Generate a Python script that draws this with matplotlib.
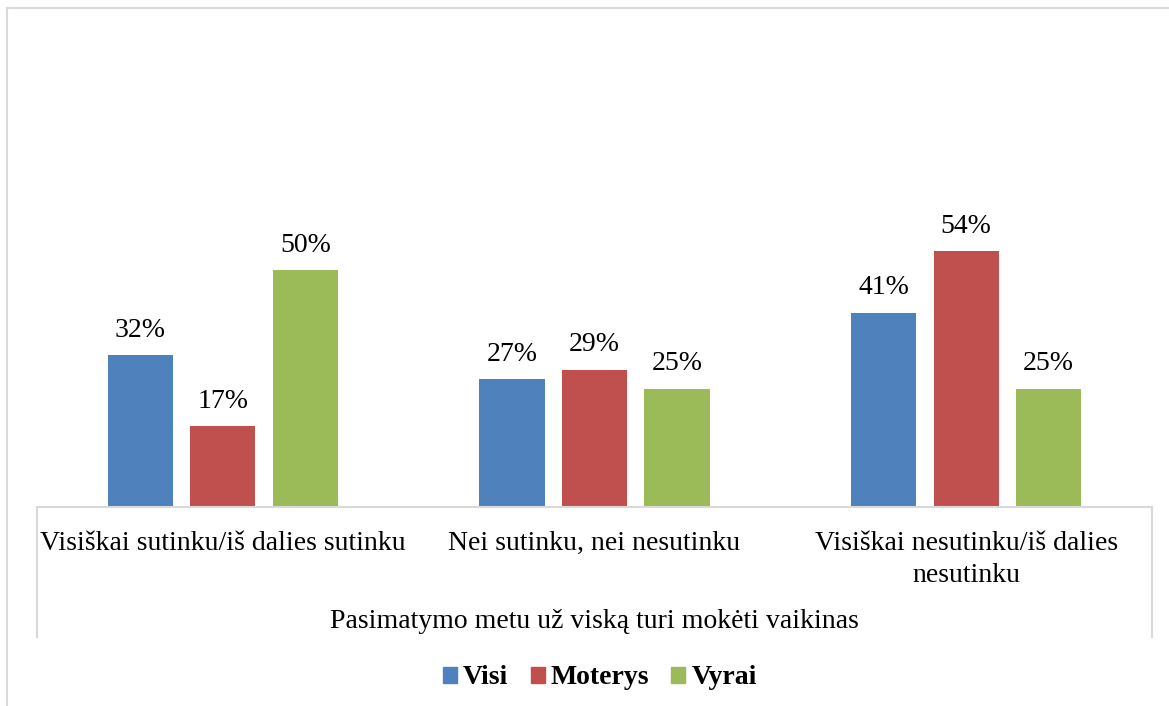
import matplotlib
matplotlib.use('Agg')
import matplotlib.pyplot as plt
import numpy as np
from matplotlib.lines import Line2D
from matplotlib.patches import Patch

plt.rcParams['font.family'] = ['Liberation Serif', 'DejaVu Serif']

# data
categories = ['Visiškai sutinku/iš dalies sutinku',
              'Nei sutinku, nei nesutinku',
              'Visiškai nesutinku/iš dalies\nnesutinku']
group_label = 'Pasimatymo metu už viską turi mokėti vaikinas'
series_names = ['Visi', 'Moterys', 'Vyrai']
visi = [0.32, 0.27, 0.41]
moterys = [0.17, 0.29, 0.54]
vyrai = [0.50, 0.25, 0.25]
colors = ['#4F81BD', '#C0504D', '#9BBB59']

W, H = 1169, 706
fig = plt.figure(figsize=(W / 100, H / 100), dpi=100)

def fx(px):
    return px / W

def fy(py):
    return 1 - py / H

# plot area in pixels
ax_left, ax_right, ax_base, ax_top = 37, 1152, 507, 222.6
ax = fig.add_axes([fx(ax_left), fy(ax_base), fx(ax_right - ax_left), (ax_base - ax_top) / H])

x = np.arange(len(categories))
bw = 0.175
step = 0.222
for i, (vals, c) in enumerate(zip([visi, moterys, vyrai], colors)):
    bars = ax.bar(x + (i - 1) * step, vals, bw, color=c, label=series_names[i])
    ax.bar_label(bars, labels=['{:.0f}%'.format(v * 100) for v in vals],
                 padding=9, fontsize=20)

ax.set_xlim(-0.5, 2.5)
ax.set_ylim(0, 0.6)
ax.set_yticks([])
ax.set_xticks(x)
ax.set_xticklabels(categories, fontsize=20, multialignment='center', linespacing=1.38)
ax.tick_params(axis='x', length=0, pad=17)
for s in ['top', 'right', 'left', 'bottom']:
    ax.spines[s].set_visible(False)

# table-like category axis lines
gray = '#D9D9D9'
fig.add_artist(Line2D([fx(ax_left), fx(ax_right)], [fy(ax_base), fy(ax_base)], color=gray, lw=1.5))
fig.add_artist(Line2D([fx(ax_left), fx(ax_left)], [fy(ax_base), fy(637)], color=gray, lw=1.5))
fig.add_artist(Line2D([fx(ax_right), fx(ax_right)], [fy(ax_base), fy(637)], color=gray, lw=1.5))

# outer chart border (partly cropped)
fig.add_artist(Line2D([fx(7), 1.0], [fy(8), fy(8)], color=gray, lw=1.5))
fig.add_artist(Line2D([fx(7), fx(7)], [fy(8), 0.0], color=gray, lw=1.5))

fig.text(fx((ax_left + ax_right) / 2), fy(622), group_label, ha='center', va='center', fontsize=20)

handles = [Patch(color=c) for c in colors]
fig.legend(handles, series_names, loc='center', bbox_to_anchor=(fx(600), fy(678)),
           ncol=3, frameon=False, handlelength=0.5, handleheight=0.5,
           handletextpad=0.22, columnspacing=0.8,
           prop={'family': 'Liberation Serif', 'weight': 'bold', 'size': 20})

fig.savefig('out.png', dpi=100)
